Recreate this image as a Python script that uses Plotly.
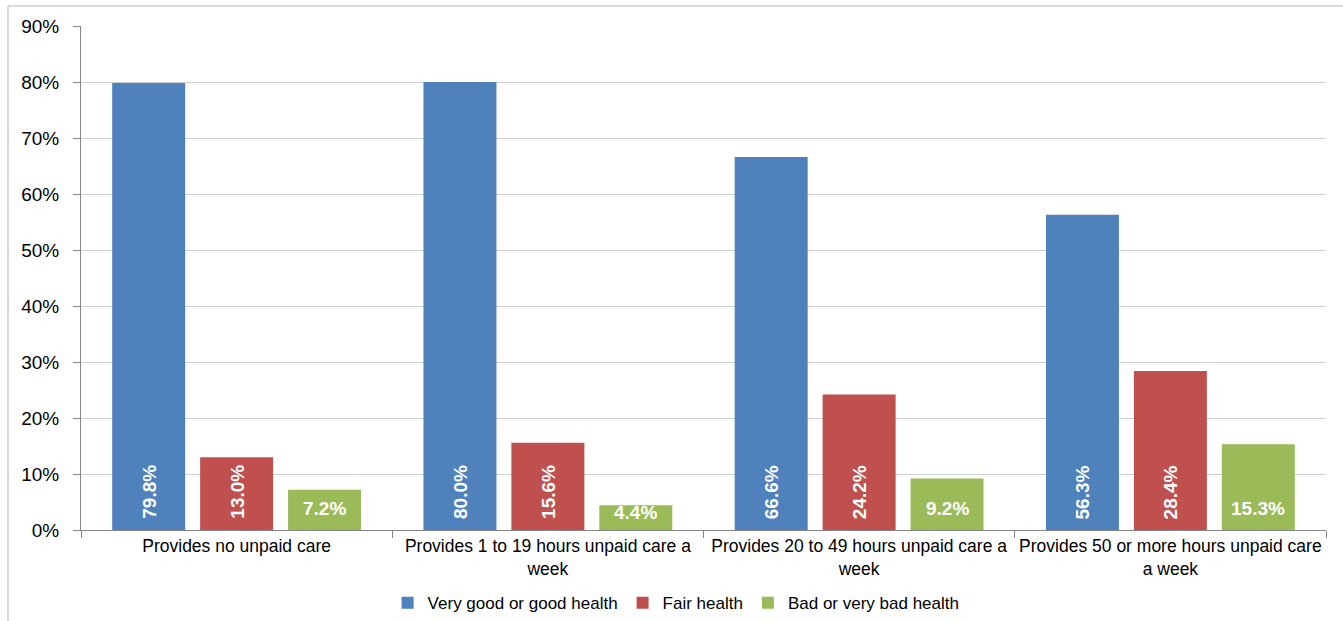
import plotly.graph_objects as go

categories = [
    "Provides no unpaid care",
    "Provides 1 to 19 hours unpaid care a<br>week",
    "Provides 20 to 49 hours unpaid care a<br>week",
    "Provides 50 or more hours unpaid care<br>a week",
]
series_names = ["Very good or good health", "Fair health", "Bad or very bad health"]
good_health = [79.8, 80.0, 66.6, 56.3]
fair_health = [13.0, 15.6, 24.2, 28.4]
bad_health = [7.2, 4.4, 9.2, 15.3]
colors = ["#4F81BD", "#C0504D", "#9BBB59"]
y_ticks = [0, 10, 20, 30, 40, 50, 60, 70, 80, 90]

series_values = [good_health, fair_health, bad_health]
label_angles = [-90, -90, 0]
bar_offsets = [-0.2825, 0.0, 0.2825]

FONT = "Liberation Sans, Arial, sans-serif"

fig = go.Figure()
for name, vals, col in zip(series_names, series_values, colors):
    fig.add_trace(go.Bar(
        name=name, x=categories, y=vals,
        marker=dict(color=col, line=dict(width=0)),
        hoverinfo="skip",
    ))

# value labels sitting near the base of each bar (less lift on very short bars)
annotations = []
for vals, ang, off in zip(series_values, label_angles, bar_offsets):
    for i, v in enumerate(vals):
        annotations.append(dict(
            x=i + off, y=0, xref="x", yref="y",
            text=f"{v:.1f}%", showarrow=False, textangle=ang,
            xanchor="center", yanchor="bottom", yshift=9 if v > 6 else 5,
            font=dict(family=FONT, size=19, color="white", weight="bold"),
        ))

fig.update_layout(
    width=1343, height=621,
    margin=dict(l=81, r=17, t=26, b=91, autoexpand=False),
    paper_bgcolor="white", plot_bgcolor="white",
    barmode="group", bargap=0.1525, bargroupgap=0.17,
    font=dict(family=FONT, size=17.5, color="black"),
    showlegend=True,
    legend=dict(
        orientation="h", x=0.478, xanchor="center",
        y=-0.145, yanchor="middle",
        font=dict(family=FONT, size=17, color="black"),
        itemwidth=30, traceorder="normal",
    ),
    annotations=annotations,
    shapes=[
        dict(type="line", xref="paper", yref="paper",
             x0=-0.0586, x1=1.02, y0=1.0397, y1=1.0397,
             line=dict(color="#d9d9d9", width=2)),
        dict(type="line", xref="paper", yref="paper",
             x0=-0.0586, x1=-0.0586, y0=1.0397, y1=-0.2,
             line=dict(color="#d9d9d9", width=2)),
    ],
)

fig.update_xaxes(
    type="category", showgrid=False, automargin=False, tickangle=0,
    showline=True, linecolor="#868686", linewidth=1,
    ticks="outside", tickson="boundaries", ticklen=7, tickcolor="#868686",
    tickfont=dict(family=FONT, size=17.5, color="black"),
)
fig.update_yaxes(
    range=[0, 90], tickvals=y_ticks, ticktext=[f"{t}%" for t in y_ticks],
    automargin=False, ticklabelstandoff=10,
    showgrid=True, gridcolor="#d0d0d0", gridwidth=1,
    showline=True, linecolor="#868686", linewidth=1,
    ticks="outside", ticklen=7, tickcolor="#868686",
    tickfont=dict(family=FONT, size=19, color="black"),
    zeroline=False,
)

fig.write_html("out.html")
